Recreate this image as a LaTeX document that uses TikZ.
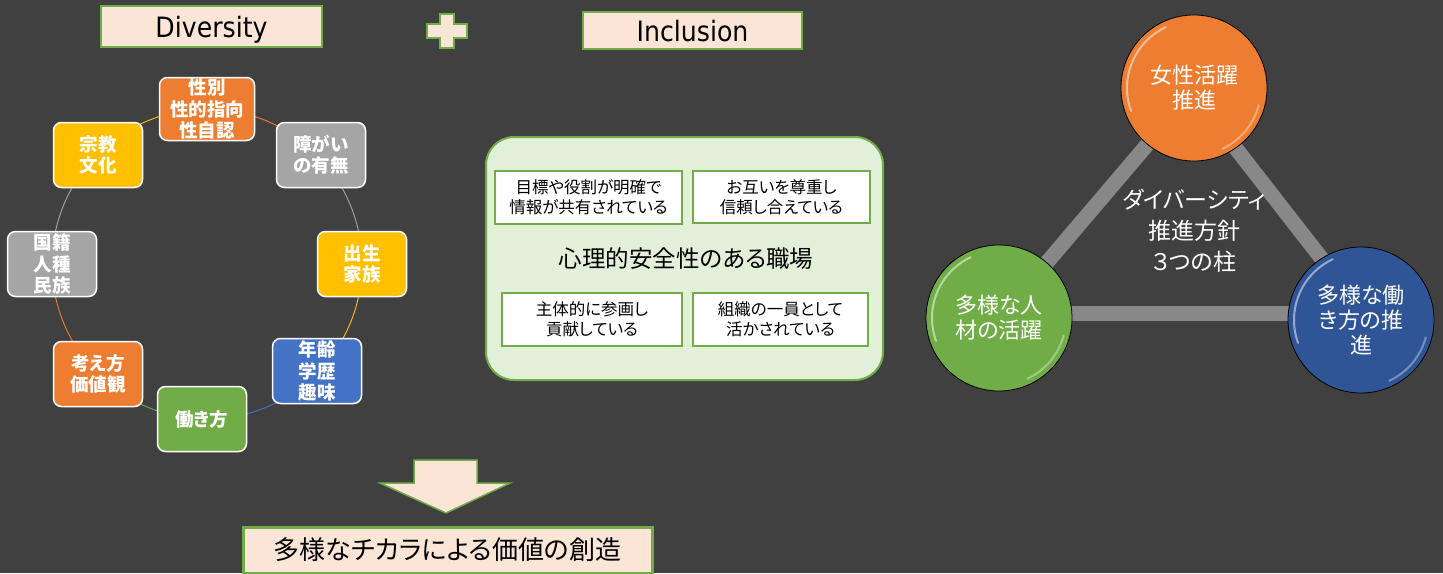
\documentclass[tikz,border=0pt]{standalone}
\usepackage{fontspec}
\setmainfont{Noto Sans CJK JP}[RawFeature=+palt]
\newfontfamily\latinf{DejaVu Sans}[FakeStretch=0.9]
\definecolor{bg}{HTML}{404040}
\definecolor{corange}{HTML}{ED7D31}
\definecolor{cgray}{HTML}{A5A5A5}
\definecolor{cyellow}{HTML}{FFC000}
\definecolor{cblue}{HTML}{4472C4}
\definecolor{cgreen}{HTML}{70AD47}
\definecolor{peach}{HTML}{FBE5D6}
\definecolor{lgreen}{HTML}{E2F0D9}
\definecolor{dblue}{HTML}{2F5597}
\definecolor{barc}{HTML}{888888}
\tikzset{
  cbox/.style={rounded corners=8pt, draw=white, line width=1.5pt, minimum width=89pt, minimum height=65pt,
    text=white, font=\bfseries\fontsize{18.5}{21.5}\selectfont, align=center, inner sep=0pt},
  titlebox/.style={draw=cgreen, line width=1.5pt, fill=peach, text=black, font=\latinf\fontsize{28}{30}\selectfont,
    inner sep=0pt, text height=21pt, text depth=0pt},
  ibox/.style={draw=cgreen, line width=2pt, fill=white, text=black, font=\fontsize{16.5}{20}\selectfont, align=center, inner sep=0pt},
  pillar/.style={circle, draw=black, line width=0.8pt, minimum size=146pt, text=white,
    font=\fontsize{22}{25}\selectfont, align=center, inner sep=0pt},
  ring/.style={line width=0.9pt},
  hl/.style={white, line width=2pt, opacity=0.5, line cap=round},
  barline/.style={barc, line width=15pt},
  peachshape/.style={draw=cgreen, line width=1.5pt, fill=peach, line join=miter}
}
\begin{document}
\begin{tikzpicture}[x=1pt,y=-1pt]
\useasboundingbox (0,0) rectangle (1443,573);
\fill[bg] (0,0) rectangle (1443,573);

% titles
\node[titlebox, minimum width=221pt, minimum height=41pt] (div) at (211.5,26.5) {Diversity};
\node[titlebox, minimum width=219pt, minimum height=37pt] (inc) at (692.5,30.5) {Inclusion};
\draw[peachshape] (440,14) -- (454,14) -- (454,24) -- (467,24) -- (467,38) -- (454,38) -- (454,48)
  -- (440,48) -- (440,38) -- (427,38) -- (427,24) -- (440,24) -- cycle;

% cycle ring
\coordinate (cc) at (207,264);
\draw[ring, corange] ([shift={(90:155pt)}]cc) arc[start angle=90, end angle=45, radius=155pt];
\draw[ring, cgray] ([shift={(45:155pt)}]cc) arc[start angle=45, end angle=0, radius=155pt];
\draw[ring, cyellow] ([shift={(0:155pt)}]cc) arc[start angle=0, end angle=-45, radius=155pt];
\draw[ring, cblue] ([shift={(-45:155pt)}]cc) arc[start angle=-45, end angle=-90, radius=155pt];
\draw[ring, cgreen] ([shift={(-90:155pt)}]cc) arc[start angle=-90, end angle=-135, radius=155pt];
\draw[ring, corange] ([shift={(-135:155pt)}]cc) arc[start angle=-135, end angle=-180, radius=155pt];
\draw[ring, cgray] ([shift={(180:155pt)}]cc) arc[start angle=180, end angle=135, radius=155pt];
\draw[ring, cyellow] ([shift={(135:155pt)}]cc) arc[start angle=135, end angle=90, radius=155pt];

\node[cbox, fill=corange, minimum width=95pt, minimum height=63pt] (b1) at (207,109) {性別\\性的指向\\性自認};
\node[cbox, fill=cgray] (b2) at (321,155) {障がい\\の有無};
\node[cbox, fill=cyellow] (b3) at (362,264) {出生\\家族};
\node[cbox, fill=cblue] (b4) at (317,371) {年齢\\学歴\\趣味};
\node[cbox, fill=cgreen] (b5) at (202,419) {働き方};
\node[cbox, fill=corange] (b6) at (98,374) {考え方\\価値観};
\node[cbox, fill=cgray] (b7) at (52,264) {国籍\\人種\\民族};
\node[cbox, fill=cyellow] (b8) at (98,155) {宗教\\文化};

% psychological safety panel
\draw[draw=cgreen, fill=lgreen, line width=2pt, rounded corners=28pt] (486,137) rectangle (883,380);
\node[ibox, minimum width=187pt, minimum height=53pt] (ia) at (588.5,197.5) {目標や役割が明確で\\情報が共有されている};
\node[ibox, minimum width=177pt, minimum height=52pt] (ib) at (781.5,197) {お互いを尊重し\\信頼し合えている};
\node[ibox, minimum width=180pt, minimum height=53pt] (ic) at (592,319.5) {主体的に参画し\\貢献している};
\node[ibox, minimum width=175pt, minimum height=53pt] (id) at (780.5,319.5) {組織の一員として\\活かされている};
\node[text=black, font=\fontsize{23.5}{28}\selectfont] (ps) at (686,259) {心理的安全性のある職場};

% arrow and result
\draw[peachshape] (414,460) -- (477,460) -- (477,483) -- (510,483) -- (446,513) -- (380,483) -- (414,483) -- cycle;
\node[draw=cgreen, line width=3pt, fill=peach, minimum width=409pt, minimum height=46pt, inner sep=0pt,
  font=\fontsize{26}{30}\selectfont] (res) at (447.5,550) {多様なチカラによる価値の創造};

% three pillars
\coordinate (vt) at (1192,92);
\coordinate (vl) at (1004,313);
\coordinate (vr) at (1364,313);
\draw[barline] (vt) -- (vl);
\draw[barline] (vt) -- (vr);
\draw[barline] (vl) -- (vr);
\node[text=white, font=\fontsize{23}{31}\selectfont, align=center] (mid) at (1194,231) {ダイバーシティ\\推進方針\\３つの柱};

\node[pillar, fill=corange] (pt) at (1194,88) {女性活躍\\推進};
\node[pillar, fill=cgreen] (pl) at (999,318) {多様な人\\材の活躍};
\node[pillar, fill=dblue] (pr) at (1361,320) {多様な働\\き方の推\\進};

\foreach \n in {pt,pl,pr}{
  \draw[hl] ([shift={(115:67pt)}]\n.center) arc[start angle=115, end angle=200, radius=67pt];
  \draw[hl, opacity=0.35] ([shift={(-15:67pt)}]\n.center) arc[start angle=-15, end angle=-65, radius=67pt];
}
\end{tikzpicture}
\end{document}
